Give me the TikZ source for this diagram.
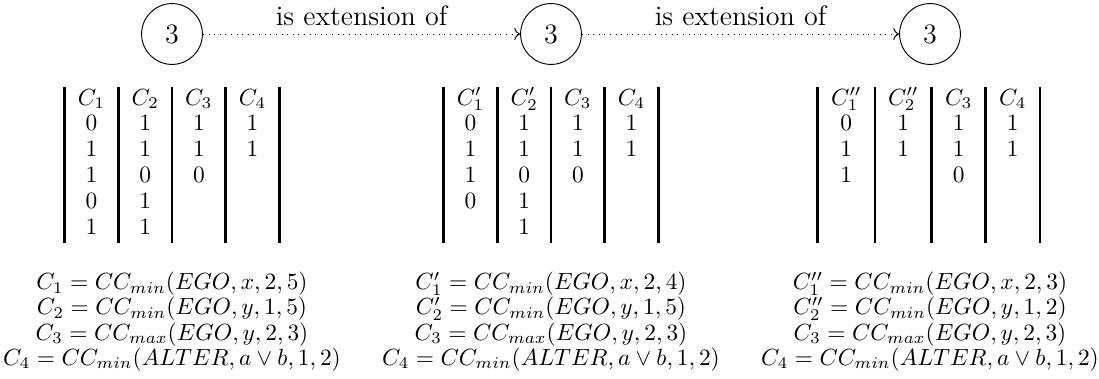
\documentclass[tikz,border=0pt]{standalone}
\usepackage{tikz}
\usetikzlibrary{arrows.meta}

\begin{document}
\begin{tikzpicture}[x=0.4274pt, y=-0.4274pt,
  state/.style={circle, draw, minimum size=26pt, inner sep=0pt, font=\large},
  ext/.style={dotted, ->},
  rule/.style={black, very thick},
  cell/.style={anchor=base, inner sep=0pt},
  formula/.style={anchor=base, inner sep=0pt}]
\useasboundingbox (0,0) rectangle (1099,379);

% the three constraint sets
\node[state] (s1) at (172,34) {3};
\node[state] (s2) at (551,34) {3};
\node[state] (s3) at (930,34) {3};

\draw[ext] (s1) -- node[above, font=\large] (l1) {is extension of} (s2);
\draw[ext] (s2) -- node[above, font=\large] (l2) {is extension of} (s3);

% table rules
\foreach \x in {64.6, 118.3, 172, 225.7, 279.4, 443.6, 497.3, 551, 604.7, 658.4, 817.7, 875, 931.7, 985.7, 1040}
 \draw[rule] (\x,87)--(\x,243);

% first table
\foreach \v [count=\r from 0] in {C_1,0,1,1,0,1}
 \node[cell] (ta1\r) at (91.45,{105+25.8*\r}) {$\v$};
\foreach \v [count=\r from 0] in {C_2,1,1,0,1,1}
 \node[cell] (ta2\r) at (145.15,{105+25.8*\r}) {$\v$};
\foreach \v [count=\r from 0] in {C_3,1,1,0}
 \node[cell] (ta3\r) at (198.85,{105+25.8*\r}) {$\v$};
\foreach \v [count=\r from 0] in {C_4,1,1}
 \node[cell] (ta4\r) at (252.55,{105+25.8*\r}) {$\v$};

% second table
\foreach \v [count=\r from 0] in {C'_1,0,1,1,0}
 \node[cell] (tb1\r) at (470.45,{105+25.8*\r}) {$\v$};
\foreach \v [count=\r from 0] in {C'_2,1,1,0,1,1}
 \node[cell] (tb2\r) at (524.15,{105+25.8*\r}) {$\v$};
\foreach \v [count=\r from 0] in {C_3,1,1,0}
 \node[cell] (tb3\r) at (577.85,{105+25.8*\r}) {$\v$};
\foreach \v [count=\r from 0] in {C_4,1,1}
 \node[cell] (tb4\r) at (631.55,{105+25.8*\r}) {$\v$};

% third table
\foreach \v [count=\r from 0] in {C''_1,0,1,1}
 \node[cell] (tc1\r) at (846.3,{105+25.8*\r}) {$\v$};
\foreach \v [count=\r from 0] in {C''_2,1,1}
 \node[cell] (tc2\r) at (903.3,{105+25.8*\r}) {$\v$};
\foreach \v [count=\r from 0] in {C_3,1,1,0}
 \node[cell] (tc3\r) at (958.7,{105+25.8*\r}) {$\v$};
\foreach \v [count=\r from 0] in {C_4,1,1}
 \node[cell] (tc4\r) at (1012.8,{105+25.8*\r}) {$\v$};

% definitions
\foreach \f [count=\i] in {{C_1 = CC_{min}(EGO,x,2,5)}, {C_2 = CC_{min}(EGO,y,1,5)}, {C_3 = CC_{max}(EGO,y,2,3)}, {C_4 = CC_{min}(ALTER,a \vee b,1,2)}}
 \node[formula] (fa\i) at (172,{289.5+25.3*(\i-1)}) {$\f$};
\foreach \f [count=\i] in {{C'_1 = CC_{min}(EGO,x,2,4)}, {C'_2 = CC_{min}(EGO,y,1,5)}, {C_3 = CC_{max}(EGO,y,2,3)}, {C_4 = CC_{min}(ALTER,a \vee b,1,2)}}
 \node[formula] (fb\i) at (551,{289.5+25.3*(\i-1)}) {$\f$};
\foreach \f [count=\i] in {{C''_1 = CC_{min}(EGO,x,2,3)}, {C''_2 = CC_{min}(EGO,y,1,2)}, {C_3 = CC_{max}(EGO,y,2,3)}, {C_4 = CC_{min}(ALTER,a \vee b,1,2)}}
 \node[formula] (fc\i) at (930,{289.5+25.3*(\i-1)}) {$\f$};

\end{tikzpicture}
\end{document}
